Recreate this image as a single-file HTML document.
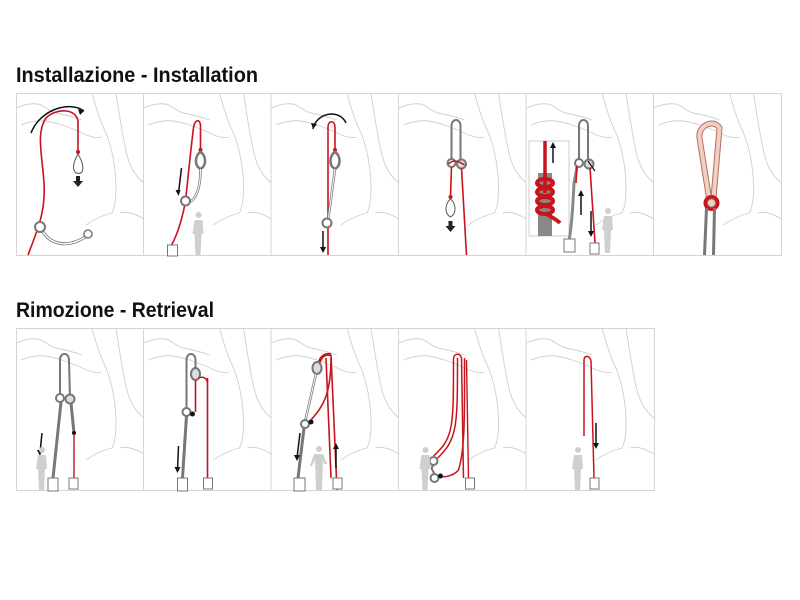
<!DOCTYPE html>
<html><head><meta charset="utf-8"><style>
html,body{margin:0;padding:0;background:#fff;width:800px;height:600px;overflow:hidden}
</style></head><body>
<svg width="800" height="600" viewBox="0 0 800 600" xmlns="http://www.w3.org/2000/svg">
<defs>
<symbol id="bg" viewBox="0 0 128 162" width="128" height="162">
<g fill="none" stroke="#cfcfcf" stroke-width="0.9">
<path d="M0 15 C8 12 14 10 22 11 C28 12 32 18 40 20 C50 22 58 24 66 27"/>
<path d="M5 32 C12 29 20 27 30 28 C42 30 52 34 62 38 C70 42 78 46 86 44"/>
<path d="M76 0 C80 15 84 28 90 40 C96 55 100 75 100 95 C100 108 98 116 96 120 C88 122 78 126 70 132"/>
<path d="M100 0 C103 20 106 40 110 58 C113 72 118 82 128 90"/>
<path d="M104 120 C110 118 118 120 128 126"/>
</g>
</symbol>
</defs>

<text x="16" y="82" font-family="'Liberation Sans Narrow','Liberation Sans',sans-serif" font-weight="bold" font-size="21" textLength="242" lengthAdjust="spacingAndGlyphs" fill="#111">Installazione - Installation</text>
<text x="16" y="317" font-family="'Liberation Sans Narrow','Liberation Sans',sans-serif" font-weight="bold" font-size="21" textLength="198" lengthAdjust="spacingAndGlyphs" fill="#111">Rimozione - Retrieval</text>

<!-- row 1 frames -->
<g fill="none" stroke="#d4d4d4" stroke-width="1">
<rect x="16.5" y="93.5" width="765" height="162"/>
<line x1="143.5" y1="93" x2="143.5" y2="256"/><line x1="271" y1="93" x2="271" y2="256"/>
<line x1="398.5" y1="93" x2="398.5" y2="256"/><line x1="526" y1="93" x2="526" y2="256"/>
<line x1="653.5" y1="93" x2="653.5" y2="256"/>
<rect x="16.5" y="328.5" width="638" height="162"/>
<line x1="143.5" y1="328" x2="143.5" y2="491"/><line x1="271" y1="328" x2="271" y2="491"/>
<line x1="398.5" y1="328" x2="398.5" y2="491"/><line x1="526" y1="328" x2="526" y2="491"/>
</g>
<use href="#bg" x="16" y="93"/><use href="#bg" x="143.5" y="93"/><use href="#bg" x="271" y="93"/>
<use href="#bg" x="398.5" y="93"/><use href="#bg" x="526" y="93"/><use href="#bg" x="653.5" y="93"/>
<use href="#bg" x="16" y="328"/><use href="#bg" x="143.5" y="328"/><use href="#bg" x="271" y="328"/>
<use href="#bg" x="398.5" y="328"/><use href="#bg" x="526" y="328"/>

<!-- Panel 1 -->
<g transform="translate(16,93)">
<path d="M12 162 C20 140 30 120 28 90 C26 60 20 40 30 25 C40 15 60 15 62 28 L62 57" fill="none" stroke="#c8141c" stroke-width="1.6"/>
<path d="M15 40 C25 15 55 8 68 18" fill="none" stroke="#111" stroke-width="1.5"/>
<path d="M68 18 l-6 -2 l2 6 z" fill="#111"/>
<circle cx="62" cy="59" r="2" fill="#c8141c"/>
<path d="M62 61 C58 68 56 75 59 79 C61 81 64 81 66 79 C68 75 66 68 62 61" fill="#fff" stroke="#555" stroke-width="1"/>
<path d="M60 83 h4 v5 h3 l-5 6 l-5 -6 h3 z" fill="#222"/>
<path d="M25 134 C30 150 50 158 72 142" fill="none" stroke="#777" stroke-width="3"/>
<path d="M25 134 C30 150 50 158 72 142" fill="none" stroke="#fff" stroke-width="1.4"/>
<circle cx="24" cy="134" r="5" fill="#fff" stroke="#777" stroke-width="2"/>
<circle cx="72" cy="141" r="4" fill="#fff" stroke="#777" stroke-width="1.5"/>
</g>

<!-- Panel 2 -->
<g transform="translate(143.5,93)">
<path d="M28 152 C35 140 40 120 42 108 C45 80 48 50 50 35 C51 27 56 25 57 32 L57 56" fill="none" stroke="#c8141c" stroke-width="1.6"/>
<circle cx="57" cy="57" r="2" fill="#c8141c"/>
<path d="M57 59 C52 62 50 72 57 76 C64 72 62 62 57 59 Z M57 76 C57 100 50 110 42 110" fill="none" stroke="#777" stroke-width="2.5"/>
<path d="M57 76 C57 100 50 110 42 110" fill="none" stroke="#fff" stroke-width="1"/>
<circle cx="42" cy="108" r="4.5" fill="#fff" stroke="#777" stroke-width="2"/>
<path d="M38 75 L35 100" stroke="#111" stroke-width="1.5"/><path d="M32 97 l3 6 l2 -6z" fill="#111"/>
<g fill="#cfcfcf"><circle cx="55" cy="122" r="3"/><path d="M51 127 h8 l1 14 h-2 l-1 21 h-5 l-1 -21 h-2 z"/></g>
<path d="M24 152 h10 v11 h-10 z" fill="#fff" stroke="#777" stroke-width="1"/>
</g>

<!-- Panel 3 -->
<g transform="translate(271,93)">
<path d="M57 162 L57 34 C57 27 64 27 64 34 L64 56" fill="none" stroke="#c8141c" stroke-width="1.6"/>
<path d="M42 36 C45 20 68 15 75 30" fill="none" stroke="#111" stroke-width="1.5"/>
<path d="M42 36 l-2 -6 l6 1 z" fill="#111"/>
<circle cx="64" cy="57" r="2" fill="#c8141c"/>
<path d="M64 59 C59 62 57 72 64 76 C71 72 69 62 64 59 Z M64 76 L57 128" fill="none" stroke="#777" stroke-width="2.5"/>
<path d="M64 76 L57 128" stroke="#fff" stroke-width="1"/>
<circle cx="56" cy="130" r="4.5" fill="#fff" stroke="#777" stroke-width="2"/>
<path d="M52 138 v18" stroke="#111" stroke-width="1.5"/><path d="M49 154 l3 6 l3 -6z" fill="#111"/>
</g>

<!-- Panel 4 -->
<g transform="translate(398.5,93)">
<path d="M53 70 L53 33 C53 25 62 25 62 33 L62 70" fill="none" stroke="#777" stroke-width="2"/>
<circle cx="53" cy="70" r="4" fill="#fff" stroke="#777" stroke-width="2"/>
<circle cx="63" cy="71" r="4.5" fill="#ddd" stroke="#777" stroke-width="2"/>
<path d="M53 74 L52 103" stroke="#c8141c" stroke-width="1.6"/>
<path d="M63 75 L68 162" stroke="#c8141c" stroke-width="1.6"/>
<path d="M50 71 C55 66 60 68 66 72" fill="none" stroke="#c8141c" stroke-width="1.5"/>
<circle cx="52" cy="104" r="2" fill="#c8141c"/>
<path d="M52 106 C47 110 45 120 52 124 C59 120 57 110 52 106" fill="#fff" stroke="#555" stroke-width="1"/>
<path d="M50 128 h4 v5 h3 l-5 6 l-5 -6 h3 z" fill="#222"/>
</g>

<!-- Panel 5 -->
<g transform="translate(526,93)">
<rect x="3" y="48" width="40" height="95" fill="#fff" stroke="#ccc"/>
<rect x="12" y="80" width="14" height="63" fill="#888"/>
<path d="M19 48 V100" stroke="#c8141c" stroke-width="3.5"/>
<g fill="none" stroke="#c8141c" stroke-width="4">
<ellipse cx="19" cy="90" rx="8" ry="4"/><ellipse cx="19" cy="99" rx="8" ry="4"/><ellipse cx="19" cy="108" rx="8" ry="4"/><ellipse cx="19" cy="117" rx="8" ry="4"/>
<path d="M19 120 C25 124 30 126 34 130"/></g>
<path d="M27 70 V52" stroke="#111" stroke-width="1.5"/><path d="M24 55 l3 -6 l3 6z" fill="#111"/>
<path d="M53 70 L53 33 C53 25 62 25 62 33 L62 70" fill="none" stroke="#777" stroke-width="2"/>
<circle cx="53" cy="70" r="4" fill="#fff" stroke="#777" stroke-width="2"/>
<circle cx="63" cy="71" r="4.5" fill="#ddd" stroke="#777" stroke-width="2"/>
<path d="M51 73 C50 80 49 85 48 90 C47 110 46 130 43 148" fill="none" stroke="#888" stroke-width="3"/>
<path d="M51 73 L50 90" stroke="#c8141c" stroke-width="1.6"/>
<path d="M64 75 L69 150" stroke="#c8141c" stroke-width="1.6"/>
<path d="M62 68 l7 10" stroke="#111" stroke-width="1.2"/>
<path d="M55 122 V100" stroke="#111" stroke-width="1.5"/><path d="M52 103 l3 -6 l3 6z" fill="#111"/>
<path d="M65 118 V140" stroke="#111" stroke-width="1.5"/><path d="M62 138 l3 6 l3 -6z" fill="#111"/>
<g fill="#cfcfcf"><circle cx="82" cy="118" r="3"/><path d="M78 123 h8 l1 14 h-2 l-1 23 h-5 l-1 -23 h-2 z"/></g>
<path d="M38 146 h11 v13 h-11 z" fill="#fff" stroke="#777"/>
<path d="M64 150 h9 v11 h-9 z" fill="#fff" stroke="#777"/>
</g>

<!-- Panel 6 -->
<g transform="translate(653.5,93)">
<path d="M56 108 L46 45 C44 33 60 25 66 35 L60 105" fill="none" stroke="#b07060" stroke-width="6"/>
<path d="M56 108 L46 45 C44 33 60 25 66 35 L60 105" fill="none" stroke="#f2cfc2" stroke-width="4"/>
<circle cx="58" cy="110" r="8" fill="#c8141c"/><circle cx="58" cy="110" r="4" fill="#f2cfc2" stroke="#888"/>
<path d="M53 115 L51 162 M61 115 L60 162" stroke="#777" stroke-width="3"/>
</g>

<!-- Row 2 Panel 1 -->
<g transform="translate(16,328)">
<path d="M44 70 L44 32 C44 24 53 24 53 32 L54 70" fill="none" stroke="#777" stroke-width="2"/>
<circle cx="44" cy="70" r="4" fill="#fff" stroke="#777" stroke-width="2"/>
<circle cx="54" cy="71" r="4.5" fill="#ddd" stroke="#777" stroke-width="2"/>
<path d="M45 74 L37 150 M55 75 L58 105" stroke="#777" stroke-width="3"/>
<circle cx="58" cy="105" r="2" fill="#111"/>
<path d="M58 106 L58 150" stroke="#c8141c" stroke-width="1.4"/>
<path d="M26 105 L24 125" stroke="#111" stroke-width="1.5"/><path d="M21 122 l3 6 l2 -6z" fill="#111"/>
<g fill="#cfcfcf"><circle cx="26" cy="122" r="3"/><path d="M22 127 h8 l1 14 h-2 l-1 21 h-5 l-1 -21 h-2 z"/></g>
<path d="M32 150 h10 v13 h-10 z" fill="#fff" stroke="#777"/>
<path d="M53 150 h9 v11 h-9 z" fill="#fff" stroke="#777"/>
</g>

<!-- Row 2 Panel 2 -->
<g transform="translate(143.5,328)">
<path d="M43 82 L43 32 C43 24 52 24 52 32 L52 40" fill="none" stroke="#777" stroke-width="2"/>
<ellipse cx="52" cy="46" rx="4.5" ry="6" fill="#ddd" stroke="#777" stroke-width="2"/>
<circle cx="43" cy="84" r="4" fill="#fff" stroke="#777" stroke-width="2"/>
<circle cx="49" cy="86" r="2.5" fill="#111"/>
<path d="M43 88 L39 150" stroke="#777" stroke-width="3"/>
<path d="M52 52 L52 84 M64 50 L64 150" stroke="#c8141c" stroke-width="1.6"/>
<path d="M59 52 C60 80 62 100 64 150" stroke="#c8141c" stroke-width="0" fill="none"/>
<path d="M55 50 C60 48 63 50 64 55" stroke="#c8141c" fill="none" stroke-width="1.5"/>
<path d="M35 118 L34 142" stroke="#111" stroke-width="1.5"/><path d="M31 139 l3 6 l3 -6z" fill="#111"/>
<path d="M34 150 h10 v13 h-10 z" fill="#fff" stroke="#777"/>
<path d="M60 150 h9 v11 h-9 z" fill="#fff" stroke="#777"/>
</g>

<!-- Row 2 Panel 3 -->
<g transform="translate(271,328)">
<path d="M48 35 C50 28 55 25 60 27 M48 35 L50 30" fill="none" stroke="#c8141c" stroke-width="3"/>
<path d="M60 27 L66 162 M60 30 C60 70 50 80 40 92" fill="none" stroke="#c8141c" stroke-width="1.6"/>
<path d="M55 30 L60 150" stroke="#c8141c" stroke-width="1.6"/>
<ellipse cx="46" cy="40" rx="4.5" ry="6" fill="#ddd" stroke="#777" stroke-width="2"/>
<path d="M45 46 L34 94" stroke="#777" stroke-width="2.5"/><path d="M45 46 L34 94" stroke="#fff" stroke-width="1"/>
<circle cx="34" cy="96" r="4" fill="#fff" stroke="#777" stroke-width="2"/>
<circle cx="40" cy="94" r="2.5" fill="#111"/>
<path d="M33 100 L27 150" stroke="#777" stroke-width="3"/>
<path d="M29 105 L26 130" stroke="#111" stroke-width="1.5"/><path d="M23 127 l3 6 l3 -6z" fill="#111"/>
<path d="M65 140 V118" stroke="#111" stroke-width="1.5"/><path d="M62 121 l3 -6 l3 6z" fill="#111"/>
<g fill="#cfcfcf"><circle cx="48" cy="121" r="3"/><path d="M43 126 h9 l4 10 h-3 l-1 -4 l-1 30 h-6 l-1 -30 l-3 6 h-2 z"/></g>
<path d="M23 150 h11 v13 h-11 z" fill="#fff" stroke="#777"/>
<path d="M62 150 h9 v11 h-9 z" fill="#fff" stroke="#777"/>
</g>

<!-- Row 2 Panel 4 -->
<g transform="translate(398.5,328)">
<path d="M55 30 C55 100 55 110 35 128 M59 30 C59 100 59 112 37 132 M55 30 C56 25 62 25 63 30 L65 150 M58 30 L58 30" fill="none" stroke="#c8141c" stroke-width="1.5"/>
<path d="M66 30 C66 80 67 120 60 142 C55 148 45 150 40 148" fill="none" stroke="#c8141c" stroke-width="1.5"/>
<path d="M68 32 L70 150" stroke="#c8141c" stroke-width="1.4"/>
<circle cx="35" cy="133" r="4" fill="#fff" stroke="#777" stroke-width="2"/>
<path d="M35 137 C30 142 38 144 35 148" fill="none" stroke="#777" stroke-width="2"/>
<circle cx="36" cy="150" r="4" fill="#fff" stroke="#777" stroke-width="2"/>
<circle cx="42" cy="148" r="2.5" fill="#111"/>
<g fill="#cfcfcf"><circle cx="27" cy="122" r="3"/><path d="M23 127 h8 l1 14 h-2 l-1 21 h-5 l-1 -21 h-2 z"/></g>
<path d="M67 150 h9 v11 h-9 z" fill="#fff" stroke="#777"/>
</g>

<!-- Row 2 Panel 5 -->
<g transform="translate(526,328)">
<path d="M58 108 L58 32 C58 27 64 27 65 33 L68 150" fill="none" stroke="#c8141c" stroke-width="1.5"/>
<path d="M70 95 V117" stroke="#111" stroke-width="1.5"/><path d="M67 115 l3 6 l3 -6z" fill="#111"/>
<g fill="#cfcfcf"><circle cx="52" cy="122" r="3"/><path d="M48 127 h8 l1 14 h-2 l-1 21 h-5 l-1 -21 h-2 z"/></g>
<path d="M64 150 h9 v11 h-9 z" fill="#fff" stroke="#777"/>
</g>
</svg>
</body></html>
